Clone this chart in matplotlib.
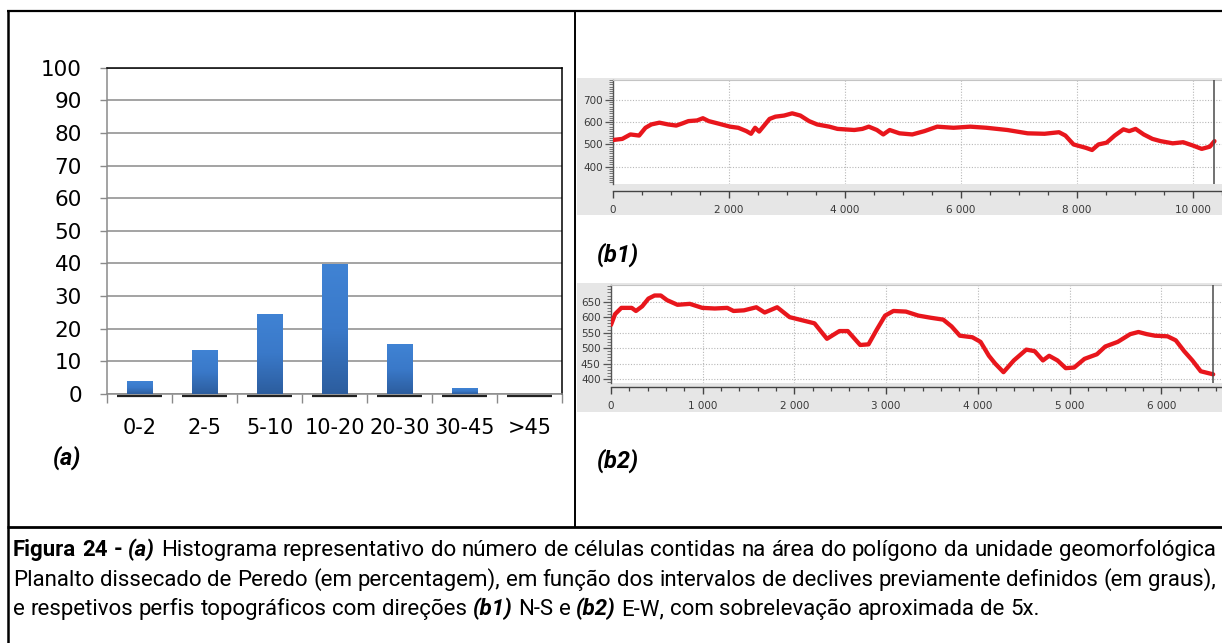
import numpy as np
import matplotlib
matplotlib.use("Agg")
import matplotlib.pyplot as plt
from matplotlib import font_manager
from matplotlib.colors import LinearSegmentedColormap
from matplotlib.ticker import MultipleLocator, FixedLocator, FuncFormatter
from matplotlib.lines import Line2D
from matplotlib.patches import Rectangle

# ---------------- data ----------------
slope_classes = ["0-2", "2-5", "5-10", "10-20", "20-30", "30-45", ">45"]
slope_percent = [3.9, 13.6, 24.6, 39.8, 15.3, 1.7, 0.0]
bar_yticks = [0, 10, 20, 30, 40, 50, 60, 70, 80, 90, 100]

b1_dist = [0, 160, 300, 450, 560, 660, 800, 950, 1090, 1200,
           1300, 1450, 1550, 1650, 1800, 2020, 2160, 2300, 2380, 2450,
           2520, 2590, 2700, 2800, 2950, 3090, 3230, 3380, 3520, 3730,
           3870, 4160, 4300, 4410, 4550, 4660, 4770, 4940, 5160, 5370,
           5590, 5870, 6160, 6440, 6800, 7150, 7440, 7690, 7800, 7940,
           8150, 8260, 8370, 8510, 8650, 8800, 8900, 9010, 9150, 9300,
           9440, 9650, 9830, 10000, 10150, 10290, 10370]
b1_elev = [520, 525, 545, 540, 575, 590, 598, 590, 585, 595,
           605, 608, 618, 605, 595, 580, 575, 560, 548, 575,
           558, 580, 615, 625, 630, 640, 630, 605, 590, 580,
           570, 565, 570, 580, 565, 545, 565, 550, 545, 560,
           580, 575, 580, 575, 565, 550, 548, 555, 540, 500,
           485, 475, 500, 508, 540, 568, 560, 570, 545, 525,
           515, 505, 510, 495, 480, 490, 515]
b1_yticks = [400, 500, 600, 700]
b1_xticks = [0, 2000, 4000, 6000, 8000, 10000]

b2_dist = [0, 45, 113, 226, 272, 340, 408, 475, 543, 611,
           725, 860, 996, 1132, 1268, 1336, 1450, 1585, 1676, 1812,
           1948, 2083, 2219, 2355, 2491, 2582, 2717, 2808, 2899, 2989,
           3080, 3216, 3352, 3488, 3623, 3714, 3804, 3940, 4030, 4121,
           4189, 4280, 4393, 4529, 4620, 4710, 4778, 4869, 4959, 5050,
           5163, 5299, 5390, 5526, 5662, 5752, 5843, 5933, 6069, 6159,
           6250, 6340, 6431, 6567]
b2_elev = [575, 610, 630, 630, 620, 635, 660, 670, 670, 655,
           640, 643, 630, 628, 630, 620, 622, 632, 615, 632,
           600, 590, 580, 530, 555, 555, 510, 512, 560, 605,
           620, 618, 605, 598, 592, 570, 540, 535, 520, 475,
           450, 422, 460, 495, 490, 460, 475, 460, 435, 437,
           465, 480, 505, 520, 545, 552, 545, 540, 538, 525,
           490, 460, 425, 415]
b2_yticks = [400, 450, 500, 550, 600, 650]
b2_xticks = [0, 1000, 2000, 3000, 4000, 5000, 6000]

panel_labels = ["(a)", "(b1)", "(b2)"]
caption_lines = [
    [("Figura 24 -", "b"), ("(a)", "bi"),
     ("Histograma representativo do número de células contidas na área do polígono da unidade geomorfológica", "r")],
    [("Planalto dissecado de Peredo (em percentagem), em função dos intervalos de declives previamente definidos (em graus),", "r")],
    [("e respetivos perfis topográficos com direções", "r"), ("(b1)", "bi"), ("N-S e", "r"),
     ("(b2)", "bi"), ("E-W, com sobrelevação aproximada de 5x.", "r")],
]

# ---------------- setup ----------------
W, H = 1222, 643
DPI = 100
fig = plt.figure(figsize=(W / DPI, H / DPI), dpi=DPI)
fig.patch.set_facecolor("white")


def fx(px):
    return px / W


def fy(py):
    return 1 - py / H


def pick_family(cands):
    for c in cands:
        try:
            font_manager.findfont(font_manager.FontProperties(family=c), fallback_to_default=False)
            return c
        except Exception:
            continue
    return "DejaVu Sans"


cap_family = pick_family(["Roboto", "Liberation Sans", "DejaVu Sans"])
bar_family = "DejaVu Sans"


def fline(x0, y0, x1, y1, lw=2.0, color="black"):
    fig.add_artist(Line2D([fx(x0), fx(x1)], [fy(y0), fy(y1)], transform=fig.transFigure,
                          color=color, lw=lw, solid_capstyle="butt", zorder=6))


# ---------------- frame ----------------
fline(7, 11, W, 11, lw=1.6)
fline(8, 11, 8, H, lw=1.8)
fline(575, 11, 575, 527, lw=1.4)
fline(7, 527, W, 527, lw=2.0)

# ---------------- (a) bar chart ----------------
ax = fig.add_axes([fx(107), fy(394), fx(562) - fx(107), fy(67.7) - fy(394)])
xpos = np.arange(len(slope_classes))
bars = ax.bar(xpos, slope_percent, width=0.4, color="#3670bd", zorder=3)
cmap = LinearSegmentedColormap.from_list("barg", ["#2c5d9e", "#3a79c9", "#4083d4"])
grad = np.linspace(0, 1, 256).reshape(-1, 1)
for b in bars:
    h = b.get_height()
    if h <= 0:
        continue
    im = ax.imshow(grad, extent=[b.get_x(), b.get_x() + b.get_width(), 0, h],
                   origin="lower", cmap=cmap, aspect="auto", zorder=3.5)
    im.set_clip_path(b)
ax.hlines([-0.6] * len(xpos), xpos - 0.345, xpos + 0.345, colors="#222222", lw=1.6,
          clip_on=False, zorder=4)
ax.set_xlim(-0.5, len(slope_classes) - 0.5)
ax.set_ylim(0, 100)
ax.yaxis.set_major_locator(FixedLocator(bar_yticks))
ax.grid(axis="y", color="#8a8a8a", lw=1.1, zorder=0)
ax.set_axisbelow(True)
ax.set_xticks(xpos)
ax.set_xticklabels(slope_classes)
ax.xaxis.set_minor_locator(FixedLocator(np.arange(-0.5, len(slope_classes), 1.0)))
ax.tick_params(axis="x", which="major", length=0, pad=17, labelsize=15)
ax.tick_params(axis="x", which="minor", length=6.5, width=1.0, color="#8a8a8a")
ax.tick_params(axis="y", length=5, width=1.0, color="#8a8a8a", pad=13, labelsize=15.5)
for lab in ax.get_xticklabels() + ax.get_yticklabels():
    lab.set_family(bar_family)
for s in ["left", "bottom"]:
    ax.spines[s].set_color("#8a8a8a")
    ax.spines[s].set_linewidth(1.1)
for s in ["top", "right"]:
    ax.spines[s].set_color("black")
    ax.spines[s].set_linewidth(1.1)

# ---------------- profiles ----------------
BG = "#e6e6e6"
fig.add_artist(Rectangle((fx(577), fy(215)), fx(W) - fx(577), fy(78) - fy(215),
                         transform=fig.transFigure, facecolor=BG, edgecolor="none", zorder=0))
fig.add_artist(Rectangle((fx(577), fy(412)), fx(W) - fx(577), fy(283) - fy(412),
                         transform=fig.transFigure, facecolor=BG, edgecolor="none", zorder=0))


def space_fmt(v, pos):
    return f"{int(round(v)):,}".replace(",", " ")


def profile(rect, dist, elev, xlim, ylim, xticks, xminor, yticks, offset, lab_pad):
    a = fig.add_axes(rect)
    a.set_facecolor("white")
    a.plot(dist, elev, color="#e8161c", lw=3.1, solid_joinstyle="round",
           solid_capstyle="round", zorder=3)
    a.axvline(dist[-1], color="#4a4a4a", lw=1.1, zorder=4)
    a.set_xlim(*xlim)
    a.set_ylim(*ylim)
    a.xaxis.set_major_locator(FixedLocator(xticks))
    a.xaxis.set_minor_locator(MultipleLocator(xminor))
    a.xaxis.set_major_formatter(FuncFormatter(space_fmt))
    a.yaxis.set_major_locator(FixedLocator(yticks))
    a.yaxis.set_minor_locator(MultipleLocator(10))
    a.grid(True, which="major", color="#b8b8b8", lw=0.8, linestyle=(0, (1, 1.5)), zorder=0)
    a.spines["right"].set_visible(False)
    a.spines["top"].set_color("#c4c4c4")
    a.spines["left"].set_color("#555555")
    a.spines["left"].set_linewidth(1.0)
    a.spines["bottom"].set_color("#444444")
    a.spines["bottom"].set_linewidth(1.0)
    a.spines["bottom"].set_position(("outward", offset))
    a.tick_params(axis="y", which="major", length=6, width=0.9, color="#555555",
                  labelsize=7.5, labelcolor="#3a3a3a", pad=1.5)
    a.tick_params(axis="y", which="minor", length=3, width=0.6, color="#666666")
    a.tick_params(axis="x", which="major", length=5, width=1.0, color="#444444",
                  labelsize=7.5, labelcolor="#3a3a3a", pad=lab_pad)
    a.tick_params(axis="x", which="minor", length=3, width=0.9, color="#444444")
    return a


profile([fx(613), fy(184), fx(W) - fx(613), fy(80) - fy(184)], b1_dist, b1_elev,
        (0, 10500), (322, 790), b1_xticks, 500, b1_yticks, 5, 5)
profile([fx(611), fy(383), fx(W) - fx(611), fy(285) - fy(383)], b2_dist, b2_elev,
        (0, 6663), (387, 704), b2_xticks, 200, b2_yticks, 3, 5)

# white strip left of the profile pictures (only inside the upper row)
fig.add_artist(Rectangle((fx(576), fy(527)), fx(577) - fx(576), fy(11) - fy(527),
                         transform=fig.transFigure, facecolor="white", edgecolor="none", zorder=5))

# panel labels
for txt, (px, py) in zip(panel_labels, [(53, 458), (597, 255), (597, 461)]):
    fig.text(fx(px), fy(py), txt, family=cap_family, weight="bold", style="italic",
             fontsize=17, ha="left", va="center")

# ---------------- caption (word by word, justified) ----------------
renderer = fig.canvas.get_renderer()
kinds = {"r": ("normal", "normal"), "b": ("bold", "normal"), "bi": ("bold", "italic")}


def tokens_of(line):
    toks = []
    for text, kind in line:
        for w in text.split(" "):
            if w:
                toks.append((w, kind))
    return toks


def measure(s, size, kind="r"):
    wt, st = kinds[kind]
    t = fig.text(0, 0, s, fontsize=size, family=cap_family, weight=wt, style=st)
    w = t.get_window_extent(renderer).width
    t.remove()
    return w


ref_size = 10.0
sp_ref = measure("a a", ref_size) - measure("aa", ref_size)
toks2 = tokens_of(caption_lines[1])
nat2 = sum(measure(w, ref_size, k) for w, k in toks2) + sp_ref * (len(toks2) - 1)
X0, X1 = 13, 1216
cap_size = min(ref_size * (X1 - X0) / nat2, 18)
space_w = sp_ref * cap_size / ref_size

baselines = [556, 586, 615]
for i, line in enumerate(caption_lines):
    toks = tokens_of(line)
    arts, widths = [], []
    for w, k in toks:
        wt, st = kinds[k]
        t = fig.text(0, fy(baselines[i]), w, fontsize=cap_size, family=cap_family,
                     weight=wt, style=st, ha="left", va="baseline", color="black")
        arts.append(t)
        widths.append(t.get_window_extent(renderer).width)
    if i < 2 and len(toks) > 1:
        gap = max((X1 - X0 - sum(widths)) / (len(toks) - 1), space_w * 0.6)
    else:
        gap = space_w
    x = X0
    for t, w in zip(arts, widths):
        t.set_x(fx(x))
        x += w + gap

fig.savefig("out.png", dpi=DPI, facecolor="white")
